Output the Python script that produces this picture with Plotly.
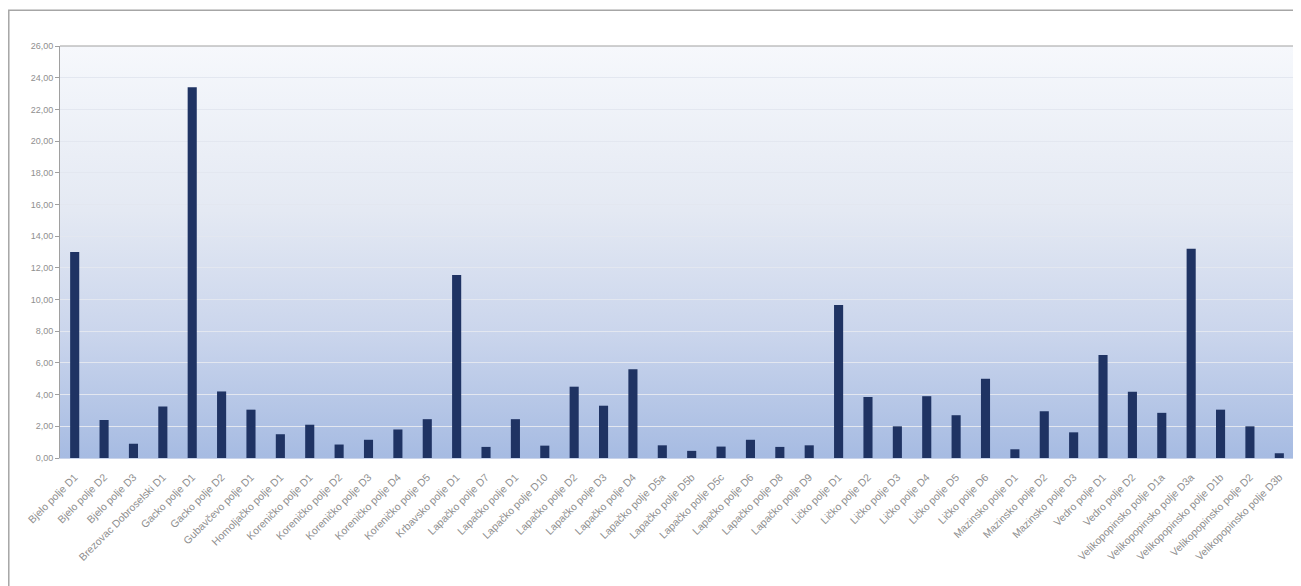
import plotly.graph_objects as go

categories = [
    "Bjelo polje D1", "Bjelo polje D2", "Bjelo polje D3", "Brezovac Dobroselski D1",
    "Gacko polje D1", "Gacko polje D2", "Gubavčevo polje D1", "Homoljačko polje D1",
    "Koreničko polje D1", "Koreničko polje D2", "Koreničko polje D3", "Koreničko polje D4",
    "Koreničko polje D5", "Krbavsko polje D1", "Lapačko polje D7", "Lapačko polje D1",
    "Lapačko polje D10", "Lapačko polje D2", "Lapačko polje D3", "Lapačko polje D4",
    "Lapačko polje D5a", "Lapačko polje D5b", "Lapačko polje D5c", "Lapačko polje D6",
    "Lapačko polje D8", "Lapačko polje D9", "Ličko polje D1", "Ličko polje D2",
    "Ličko polje D3", "Ličko polje D4", "Ličko polje D5", "Ličko polje D6",
    "Mazinsko polje D1", "Mazinsko polje D2", "Mazinsko polje D3", "Vedro polje D1",
    "Vedro polje D2", "Velikopopinsko polje D1a", "Velikopopinsko polje D3a",
    "Velikopopinsko polje D1b", "Velikopopinsko polje D2", "Velikopopinsko polje D3b",
]

values = [
    13.0, 2.4, 0.9, 3.25, 23.4, 4.2, 3.05, 1.5, 2.1, 0.85, 1.15, 1.8, 2.45, 11.55,
    0.7, 2.45, 0.78, 4.5, 3.3, 5.6, 0.8, 0.45, 0.72, 1.15, 0.7, 0.8, 9.65, 3.85,
    2.0, 3.9, 2.7, 5.0, 0.55, 2.95, 1.62, 6.5, 4.18, 2.85, 13.2, 3.05, 2.0, 0.3,
]

y_ticks = [0, 2, 4, 6, 8, 10, 12, 14, 16, 18, 20, 22, 24, 26]
y_ticktext = [("%.2f" % v).replace(".", ",") for v in y_ticks]

gradient_svg = (
    "data:image/svg+xml;utf8,"
    "<svg xmlns='http://www.w3.org/2000/svg' width='100' height='100' preserveAspectRatio='none'>"
    "<defs><linearGradient id='g' x1='0' y1='0' x2='0' y2='1'>"
    "<stop offset='0' stop-color='%23f6f8fc'/>"
    "<stop offset='0.4' stop-color='%23e4e9f3'/>"
    "<stop offset='0.7' stop-color='%23cad5ec'/>"
    "<stop offset='1' stop-color='%23a6bbe2'/>"
    "</linearGradient></defs>"
    "<rect width='100' height='100' fill='url(%23g)'/></svg>"
)

fig = go.Figure(
    go.Bar(
        x=categories,
        y=values,
        marker=dict(color="#1f3363", line=dict(width=0)),
        hoverinfo="x+y",
    )
)

fig.update_layout(
    width=1293,
    height=578,
    paper_bgcolor="white",
    plot_bgcolor="rgba(0,0,0,0)",
    margin=dict(l=52, r=7, t=38, b=128, autoexpand=False),
    bargap=0.69,
    showlegend=False,
    images=[
        dict(
            source=gradient_svg,
            xref="paper", yref="paper",
            x=0, y=1, sizex=1, sizey=1,
            sizing="stretch", layer="below",
            xanchor="left", yanchor="top",
        )
    ],
    shapes=[
        dict(
            type="rect", xref="paper", yref="paper",
            x0=-0.0415, x1=1.02, y0=-0.4, y1=1.087,
            line=dict(color="#a6a6a6", width=1.5),
            fillcolor="rgba(0,0,0,0)", layer="below",
        ),
        dict(
            type="line", xref="paper", yref="paper", x0=0, x1=1, y0=1, y1=1,
            line=dict(color="#a0a0a0", width=1),
        ),
    ],
)

fig.update_yaxes(
    range=[0, 26],
    tickvals=y_ticks,
    ticktext=y_ticktext,
    tickfont=dict(family="Liberation Sans, Arial", size=9, color="#8f8f8f"),
    showgrid=True,
    gridcolor="#e3e7f0",
    gridwidth=1,
    showline=True,
    linecolor="#a0a0a0",
    linewidth=1,
    ticks="outside",
    ticklen=4,
    tickcolor="#a0a0a0",
    zeroline=False,
    automargin=False,
)

fig.update_xaxes(
    tickangle=-45,
    tickfont=dict(family="Liberation Sans, Arial", size=10.5, color="#8f8f8f"),
    showline=True,
    linecolor="#c8d3ea",
    linewidth=1,
    showgrid=False,
    ticks="outside",
    ticklen=8,
    tickcolor="rgba(0,0,0,0)",
    automargin=False,
)

fig.write_html("out.html")
